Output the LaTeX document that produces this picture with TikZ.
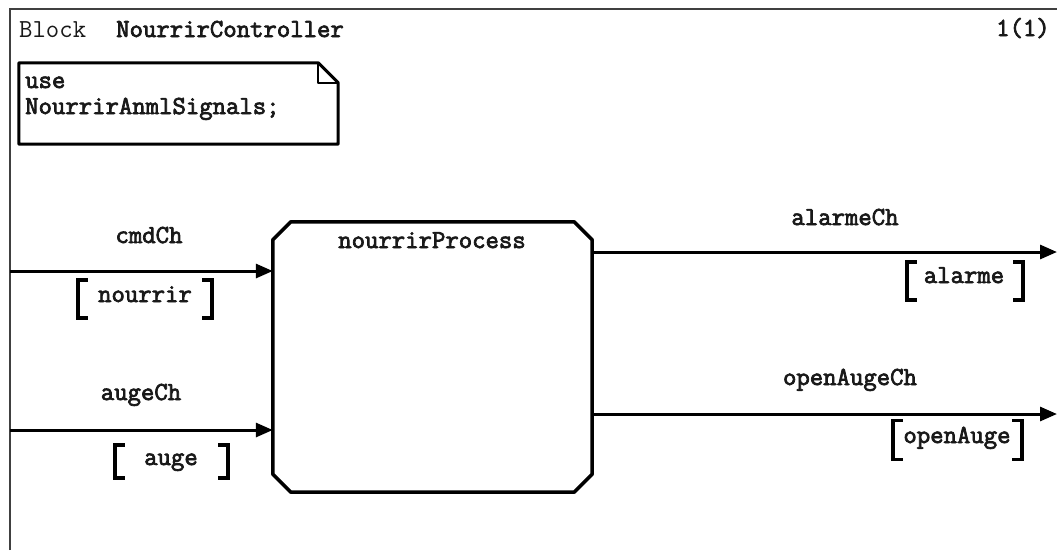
\documentclass[tikz,border=0pt]{standalone}
\usepackage{fontspec}
\setmonofont{Latin Modern Mono}[AutoFakeBold=2.8]
\usetikzlibrary{arrows.meta}
\begin{document}
\begin{tikzpicture}[x=1pt,y=-1pt,
  txt/.style={font=\fontsize{26}{26}\selectfont\ttfamily\bfseries, inner sep=0pt, anchor=base, text=black!90},
  txtw/.style={txt, anchor=base west},
  frame/.style={draw=black!75, line width=1.8pt},
  outline/.style={draw=black, line width=3pt, line join=round},
  sig/.style={draw=black, line width=3pt, -{Triangle[length=17pt,width=14pt]}},
  brk/.style={draw=black, line width=3.5pt},
  hold/.style={draw=none, inner sep=0pt}
]
\useasboundingbox (0,0) rectangle (1057,550);
\fill[white] (0,0) rectangle (1057,550);

% frame
\coordinate (fbl) at (10,550);
\coordinate (ftl) at (10,9);
\coordinate (ftr) at (1057,9);
\draw[frame] (fbl) -- (ftl) -- (ftr);

% header
\node[txtw, font=\fontsize{26}{30}\selectfont\ttfamily\mdseries] (kw) at (19,37) {Block};
\node[txtw] (name) at (116,37) {NourrirController};
\node[txtw] (page) at (996,36) {1(1)};

% note
\node[hold, minimum width=319pt, minimum height=81pt] (note) at (178.5,103.5) {};
\draw[outline] ([xshift=-20pt]note.north east) -- (note.north west) -- (note.south west)
  -- (note.south east) -- ([yshift=-20pt]note.north east) -- cycle;
\draw[outline, line width=2.5pt] ([xshift=-20pt]note.north east) |- ([yshift=-20pt]note.north east);
\node[txtw, align=left] (use) at (25,114) {use\\NourrirAnmlSignals;};

% process
\node[hold, minimum width=319pt, minimum height=270pt] (proc) at (432.5,357) {};
\draw[outline, line width=3.5pt]
  ([xshift=18pt]proc.north west) -- ([xshift=-18pt]proc.north east)
  -- ([yshift=-18pt]proc.north east) -- ([yshift=18pt]proc.south east)
  -- ([xshift=-18pt]proc.south east) -- ([xshift=18pt]proc.south west)
  -- ([yshift=18pt]proc.south west) -- ([yshift=-18pt]proc.north west) -- cycle;
\node[txt] (pname) at (432,248) {nourrirProcess};

% channel ends
\coordinate (cmdin) at (10,271);
\coordinate (augein) at (10,430);
\coordinate (alout) at (1057,252);
\coordinate (opout) at (1057,414);

\draw[sig] (cmdin) -- (cmdin -| proc.west);
\draw[sig] (augein) -- (augein -| proc.west);
\draw[sig] (proc.east |- alout) -- (alout);
\draw[sig] (proc.east |- opout) -- (opout);

% channel labels
\node[txt] (lcmd) at (149,243) {cmdCh};
\node[txt] (lauge) at (141,400) {augeCh};
\node[txt] (lal) at (845,225) {alarmeCh};
\node[txt] (lop) at (850,385) {openAugeCh};

% signal lists
\node[hold, minimum width=134pt, minimum height=38pt] (b1) at (145,299) {};
\node[hold, minimum width=113pt, minimum height=33pt] (b2) at (171.5,461.5) {};
\node[hold, minimum width=116pt, minimum height=38pt] (b3) at (965,281) {};
\node[hold, minimum width=129pt, minimum height=39pt] (b4) at (957.5,440) {};
\foreach \b in {b1,b2,b3,b4}{
  \draw[brk] ([xshift=10pt]\b.north west) -| (\b.south west) -- ++(10,0);
  \draw[brk] ([xshift=-10pt]\b.north east) -| (\b.south east) -- ++(-10,0);
}
\node[txt] (s1) at (145,302) {nourrir};
\node[txt] (s2) at (171,465) {auge};
\node[txt] (s3) at (964,283) {alarme};
\node[txt] (s4) at (957,443) {openAuge};
\end{tikzpicture}
\end{document}
